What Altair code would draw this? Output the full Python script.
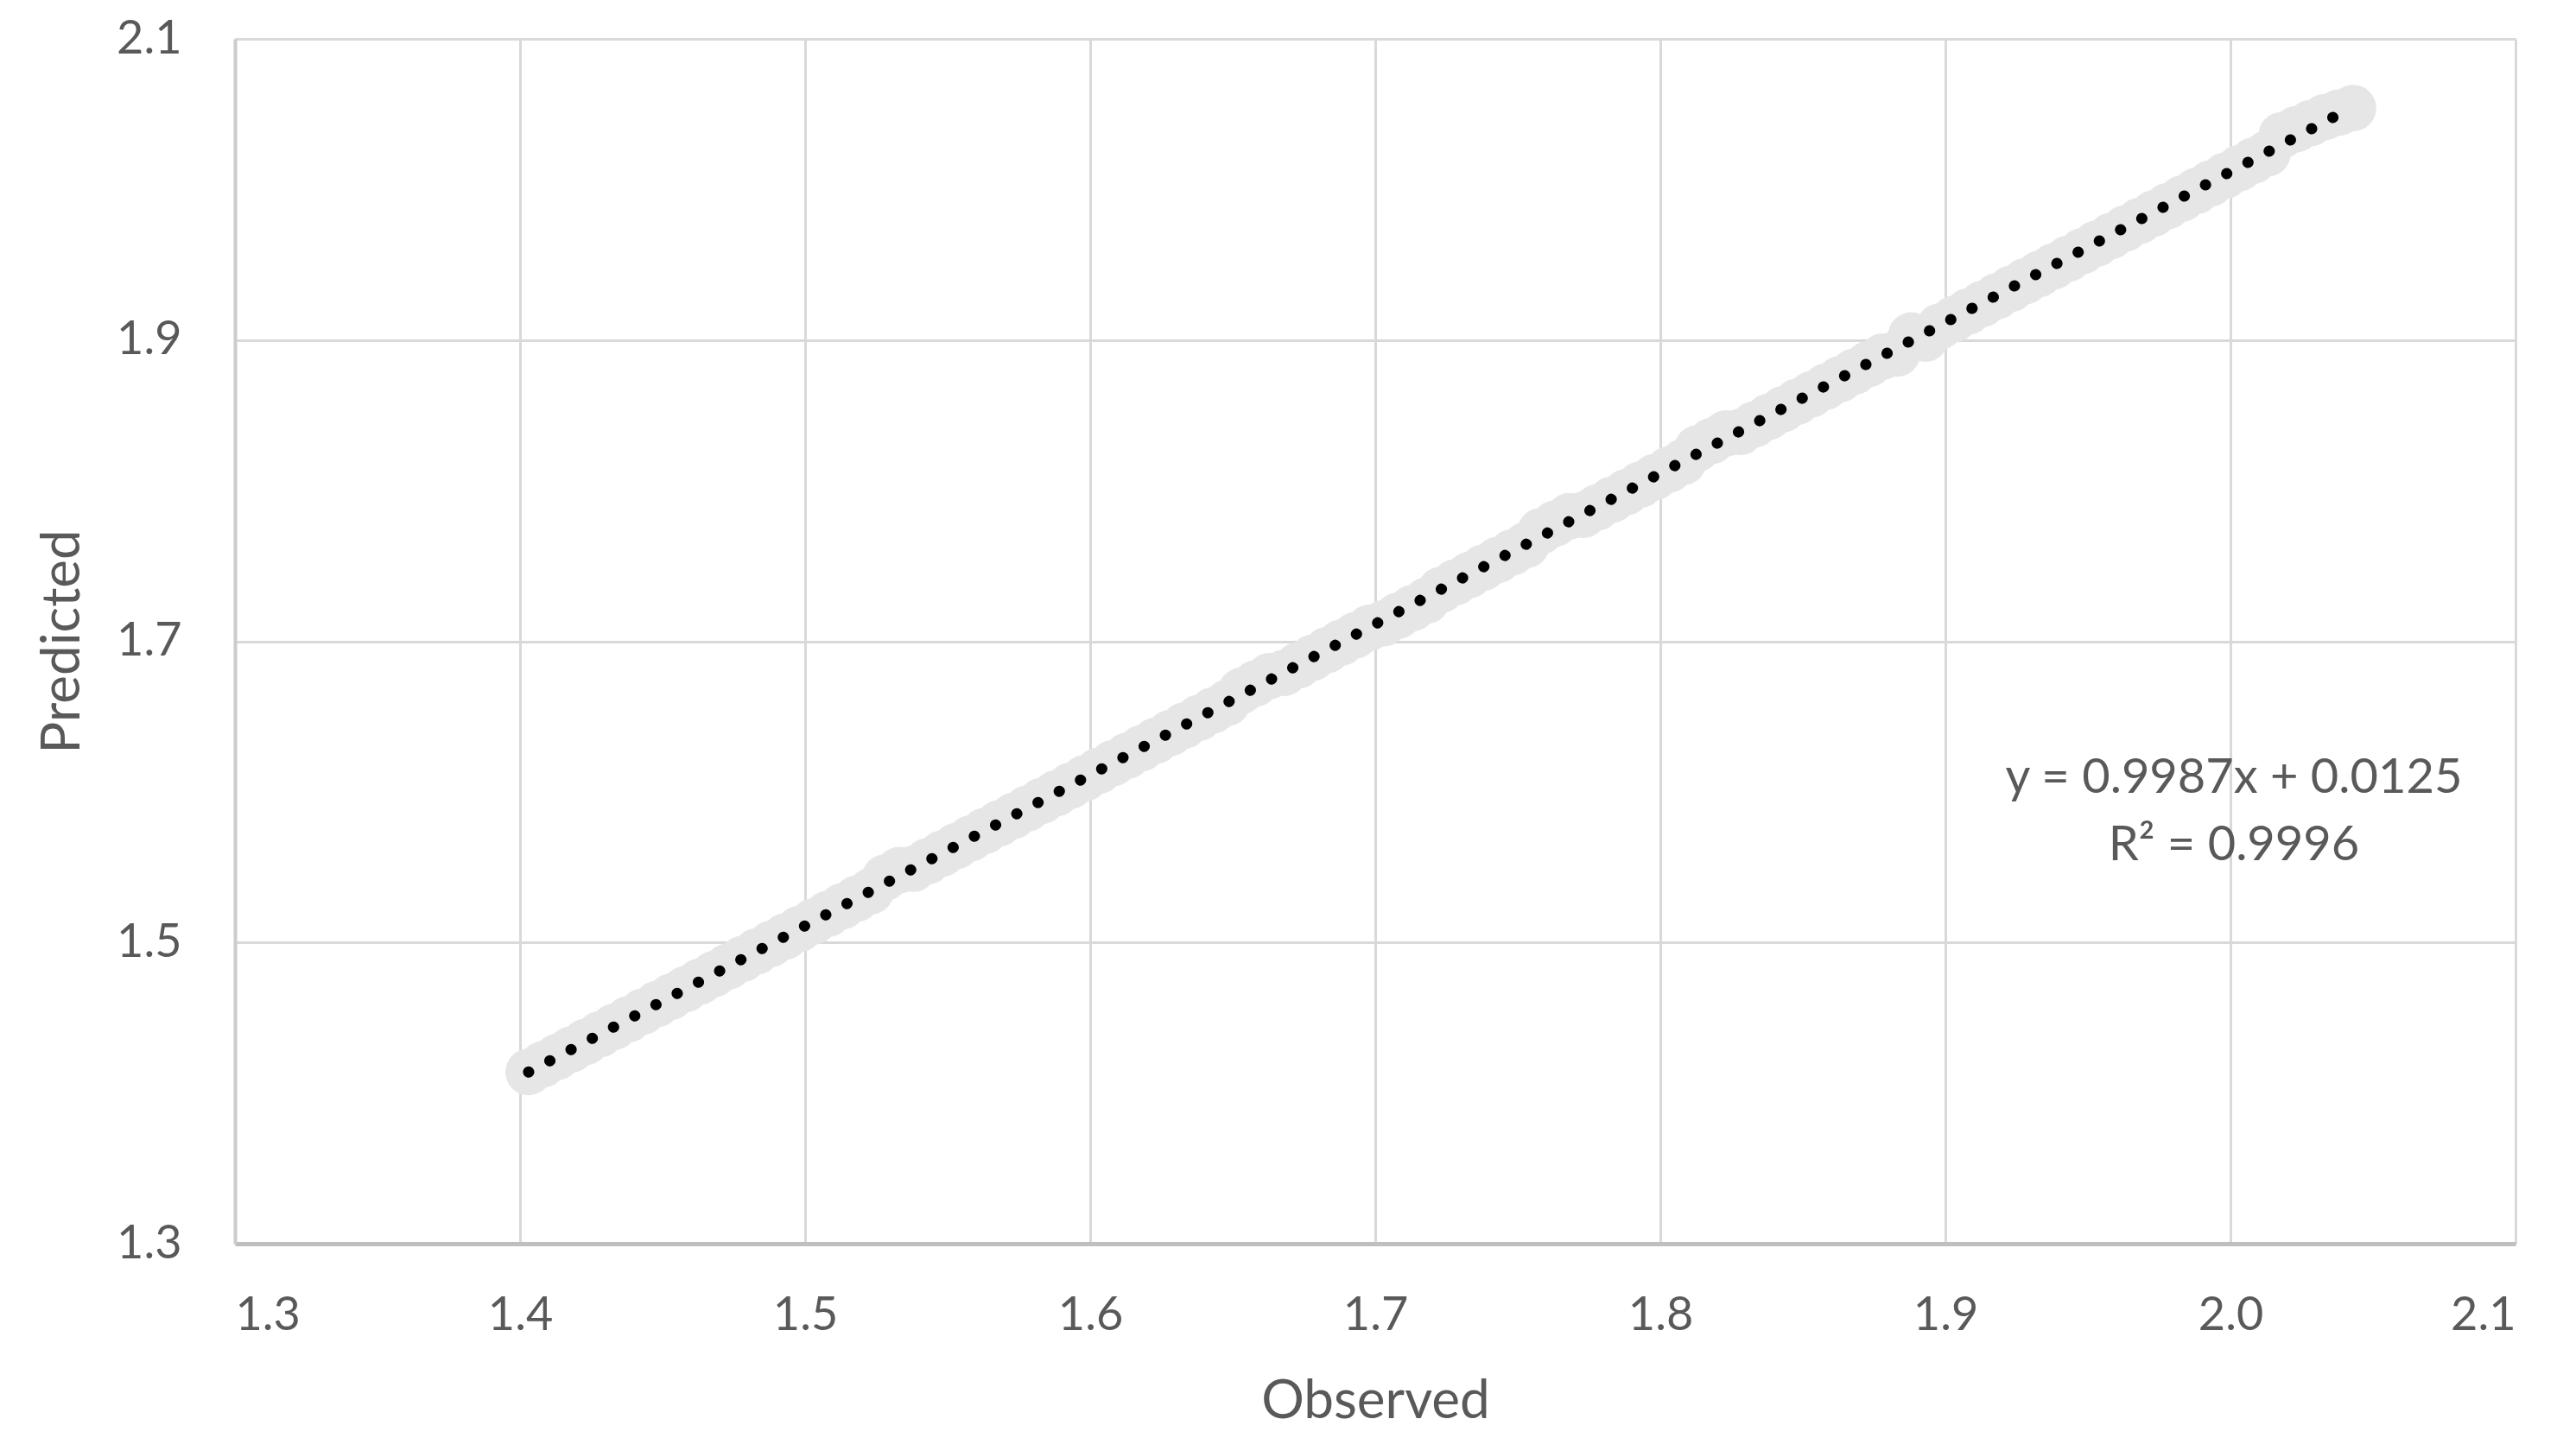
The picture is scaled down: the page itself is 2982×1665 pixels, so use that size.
import altair as alt
import pandas as pd

observed = [
    1.403, 1.408, 1.413, 1.418, 1.423, 1.428, 1.433, 1.438, 1.443, 1.448,
    1.453, 1.458, 1.463, 1.468, 1.473, 1.478, 1.483, 1.488, 1.493, 1.498,
    1.503, 1.508, 1.513, 1.518, 1.523, 1.528, 1.533, 1.538, 1.543, 1.548,
    1.553, 1.558, 1.563, 1.568, 1.573, 1.578, 1.583, 1.588, 1.593, 1.598,
    1.603, 1.608, 1.613, 1.618, 1.623, 1.628, 1.633, 1.638, 1.643, 1.648,
    1.653, 1.658, 1.663, 1.668, 1.673, 1.678, 1.683, 1.688, 1.693, 1.698,
    1.703, 1.708, 1.713, 1.718, 1.723, 1.728, 1.733, 1.738, 1.743, 1.748,
    1.753, 1.758, 1.763, 1.768, 1.773, 1.778, 1.783, 1.788, 1.793, 1.798,
    1.803, 1.808, 1.813, 1.818, 1.823, 1.828, 1.833, 1.838, 1.843, 1.848,
    1.853, 1.858, 1.863, 1.868, 1.873, 1.878, 1.883, 1.888, 1.893, 1.898,
    1.903, 1.908, 1.913, 1.918, 1.923, 1.928, 1.933, 1.938, 1.943, 1.948,
    1.953, 1.958, 1.963, 1.968, 1.973, 1.978, 1.983, 1.988, 1.993, 1.998,
    2.003, 2.008, 2.013, 2.018, 2.023, 2.028, 2.033, 2.038, 2.043,
]

predicted = [
    1.414, 1.419, 1.424, 1.429, 1.434, 1.439, 1.444, 1.449, 1.454, 1.459,
    1.464, 1.469, 1.474, 1.479, 1.484, 1.489, 1.494, 1.499, 1.504, 1.509,
    1.514, 1.519, 1.524, 1.529, 1.534, 1.543, 1.548, 1.549, 1.554, 1.559,
    1.564, 1.569, 1.574, 1.579, 1.584, 1.589, 1.594, 1.599, 1.604, 1.609,
    1.614, 1.619, 1.624, 1.629, 1.634, 1.639, 1.644, 1.649, 1.654, 1.659,
    1.667, 1.672, 1.677, 1.679, 1.684, 1.689, 1.694, 1.699, 1.704, 1.709,
    1.712, 1.717, 1.722, 1.727, 1.734, 1.739, 1.744, 1.749, 1.754, 1.759,
    1.764, 1.773, 1.778, 1.783, 1.784, 1.789, 1.794, 1.799, 1.804, 1.809,
    1.814, 1.819, 1.828, 1.833, 1.838, 1.839, 1.844, 1.849, 1.854, 1.859,
    1.864, 1.869, 1.874, 1.879, 1.884, 1.889, 1.891, 1.903, 1.901, 1.909,
    1.914, 1.919, 1.924, 1.929, 1.934, 1.939, 1.944, 1.949, 1.954, 1.959,
    1.964, 1.969, 1.974, 1.979, 1.984, 1.989, 1.994, 1.999, 2.004, 2.009,
    2.014, 2.019, 2.024, 2.036, 2.040, 2.044, 2.048, 2.051, 2.054,
]

x_ticks = [1.3, 1.4, 1.5, 1.6, 1.7, 1.8, 1.9, 2.0, 2.1]
y_ticks = [1.3, 1.5, 1.7, 1.9, 2.1]
equation_lines = ["y = 0.9987x + 0.0125", "R\u00b2 = 0.9996"]

FONT = "Lato"
TXT = "#595959"

df = pd.DataFrame({"Observed": observed, "Predicted": predicted})

x_enc = alt.X(
    "Observed:Q",
    scale=alt.Scale(domain=[1.3, 2.1], nice=False, zero=False),
    axis=alt.Axis(
        values=x_ticks, format=".1f", title="Observed",
        ticks=False, labelPadding=56, titlePadding=42,
        domainColor="#bfbfbf", domainWidth=5,
        gridColor="#d9d9d9", gridWidth=3,
    ),
)
y_enc = alt.Y(
    "Predicted:Q",
    scale=alt.Scale(domain=[1.3, 2.1], nice=False, zero=False),
    axis=alt.Axis(
        values=y_ticks, format=".1f", title="Predicted",
        ticks=False, labelPadding=62, titlePadding=30,
        domainColor="#cccccc", domainWidth=4,
        gridColor="#d9d9d9", gridWidth=3,
    ),
)

base = alt.Chart(df)

points = base.mark_circle(size=2900, color="#e6e6e6", opacity=1).encode(x=x_enc, y=y_enc)

trend = base.transform_regression("Observed", "Predicted").mark_line(
    color="black", strokeWidth=13, strokeDash=[0.1, 27.7], strokeCap="round"
).encode(x=x_enc, y=y_enc)

label = alt.Chart(pd.DataFrame({"k": [0]})).mark_text(
    text=equation_lines, font=FONT, fontSize=56, color=TXT,
    align="center", baseline="middle", lineHeight=78,
).encode(x=alt.value(2314), y=alt.value(856))

chart = alt.layer(points, trend, label).properties(
    width=2640, height=1395,
    autosize=alt.AutoSizeParams(type="none"),
    padding={"left": 264, "top": 37, "right": 60, "bottom": 215},
).configure_view(stroke=None).configure_axis(
    labelFont=FONT, labelFontSize=54, labelColor=TXT,
    titleFont=FONT, titleFontSize=62, titleColor=TXT, titleFontWeight="normal",
)

chart.save("out.html", embed_options={"renderer": "svg", "actions": False})
